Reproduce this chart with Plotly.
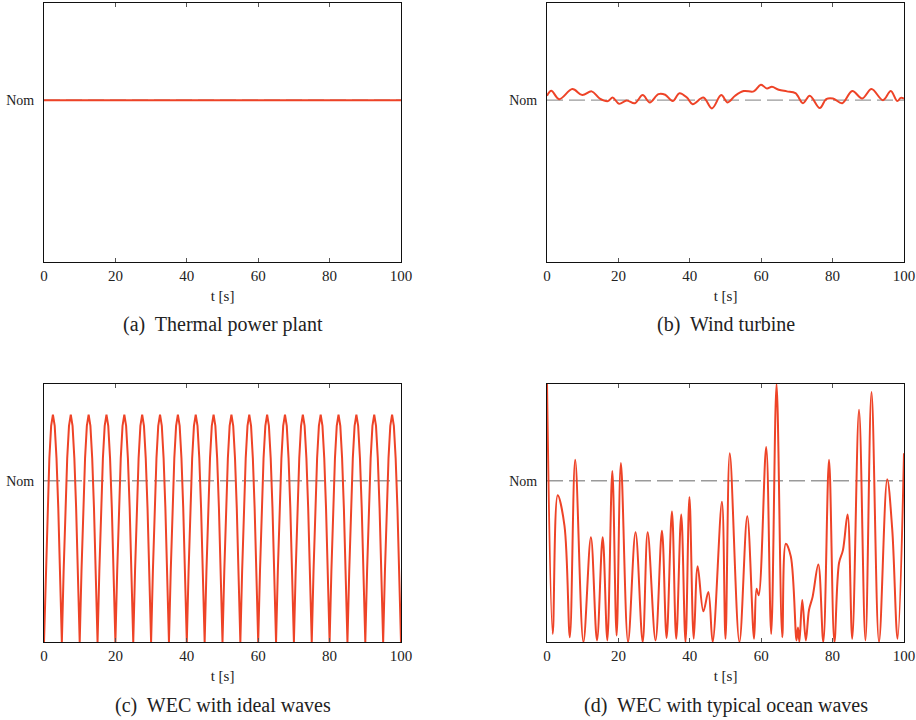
import numpy as np
import plotly.graph_objects as go

# ---------------------------------------------------------------- data
nominal = 1.0
tick_t = [0, 20, 40, 60, 80, 100]
tick_t_text = ["0", "20", "40", "60", "80", "100"]
captions = ["(a)  Thermal power plant", "(b)  Wind turbine",
            "(c)  WEC with ideal waves", "(d)  WEC with typical ocean waves"]

# (a) thermal power plant: flat at nominal output
thermal_t = [0, 100]
thermal_p = [1.0, 1.0]

# (b) wind turbine: small fluctuations around nominal
wind_t = [0.0, 1.2, 3.4, 7.1, 9.9, 12.5, 14.8, 17.1, 18.4, 20.2, 22.3, 24.6,
          26.8, 28.8, 31.2, 33.1, 35.2, 37.1, 39.2, 40.8, 43.8, 46.2, 48.8,
          50.6, 52.7, 55.1, 57.9, 59.9, 61.6, 63.0, 64.9, 67.2, 69.6, 71.7,
          73.6, 76.4, 78.2, 80.1, 82.7, 85.5, 88.3, 90.9, 94.1, 96.3, 98.1,
          99.1, 100.0]
wind_p = [1.027, 1.058, 1.006, 1.068, 1.031, 1.054, 1.010, 0.994, 1.016,
          0.977, 0.998, 0.981, 1.031, 0.986, 1.037, 1.033, 0.994, 1.043,
          1.016, 0.975, 1.016, 0.949, 1.031, 0.986, 1.027, 1.056, 1.054,
          1.095, 1.072, 1.082, 1.064, 1.054, 1.043, 0.981, 1.027, 0.951,
          1.006, 1.010, 0.981, 1.056, 1.010, 1.068, 1.000, 1.056, 0.994,
          1.014, 1.010]

# (c) ideal regular waves: one 5 s period of the WEC output, repeated
ideal_period = 5.0
ideal_cycles = 20
ideal_cycle_t = [0.0, 0.5, 1.0, 1.5, 2.0, 2.5, 3.0, 3.5, 4.0, 4.5]
ideal_cycle_p = [0.0, 0.44, 0.83, 1.14, 1.34, 1.41, 1.34, 1.14, 0.83, 0.44]

# (d) irregular ocean waves
ocean_t = [0.0, 1.6, 3.0, 4.9, 6.4, 7.9, 10.2, 12.3, 14.0, 15.6, 16.9, 18.3,
           19.5, 20.7, 22.7, 24.8, 26.8, 28.2, 30.4, 32.2, 33.5, 35.0, 36.2,
           37.6, 38.8, 39.9, 41.1, 42.2, 43.8, 45.2, 46.4, 49.0, 50.0, 51.2,
           53.9, 56.1, 58.0, 58.7, 59.3, 61.4, 62.8, 64.3, 65.9, 66.9, 68.3,
           69.9, 70.3, 70.7, 71.5, 72.5, 73.4, 74.4, 76.0, 77.4, 79.0, 80.5,
           81.8, 82.9, 84.2, 85.5, 87.4, 89.2, 90.9, 93.0, 95.3, 96.7, 98.2,
           100.0]
ocean_p = [1.6, 0.05, 0.91, 0.72, 0.03, 1.13, 0.0, 0.65, 0.01, 0.65, 0.01,
           1.06, 0.04, 1.11, 0.0, 0.68, 0.0, 0.68, 0.01, 0.69, 0.025, 0.81,
           0.02, 0.79, 0.0, 0.90, 0.02, 0.47, 0.19, 0.31, 0.0, 0.87, 0.02,
           1.17, 0.0, 0.78, 0.02, 0.33, 0.29, 1.21, 0.05, 1.6, 0.03, 0.61,
           0.53, 0.01, 0.09, 0.0, 0.26, 0.01, 0.20, 0.28, 0.48, 0.0, 1.13,
           0.0, 0.49, 0.57, 0.79, 0.02, 1.44, 0.01, 1.55, 0.0, 1.01, 0.70,
           0.02, 1.17]

# build the repeated ideal-wave series
ideal_t = np.concatenate([np.array(ideal_cycle_t) + k * ideal_period
                          for k in range(ideal_cycles)] + [[ideal_cycles * ideal_period]])
ideal_p = np.concatenate([ideal_cycle_p] * ideal_cycles + [[ideal_cycle_p[0]]])

# ---------------------------------------------------------------- style
W, H = 916, 720
RED = "#EE4327"
FONT = "Liberation Serif"

# plot boxes in pixels: (left, right, top, bottom)
boxes = [(44, 401, 3, 262), (547, 904, 3, 262),
         (44, 401, 384, 642), (547, 904, 384, 642)]

series = [(thermal_t, thermal_p, "linear"),
          (wind_t, wind_p, "spline"),
          (list(ideal_t), list(ideal_p), "linear"),
          (ocean_t, ocean_p, "spline")]

fig = go.Figure()
layout = dict(width=W, height=H, margin=dict(l=0, r=0, t=0, b=0, autoexpand=False),
              paper_bgcolor="white", plot_bgcolor="white",
              showlegend=False, font=dict(family=FONT, size=14, color="#222"))
shapes, annotations = [], []

for i, ((l, r, tp, bt), (tx, py, shape)) in enumerate(zip(boxes, series)):
    n = "" if i == 0 else str(i + 1)
    xd = [l / W, r / W]
    yd = [(H - bt) / H, (H - tp) / H]
    layout["xaxis" + n] = dict(
        domain=xd, anchor="y" + n, range=[0, 100], automargin=False,
        tickvals=tick_t, ticktext=tick_t_text,
        ticks="inside", ticklen=4, tickcolor="#555", tickwidth=1,
        showline=True, linecolor="#111", linewidth=1, mirror="allticks",
        showgrid=False, zeroline=False,
        tickfont=dict(family=FONT, size=15, color="#222"),
        title=dict(text="t [s]", standoff=7, font=dict(family=FONT, size=15, color="#222")),
    )
    layout["yaxis" + n] = dict(
        domain=yd, anchor="x" + n, range=[0, 1.6], automargin=False,
        tickvals=[nominal], ticktext=["Nom"], ticks="", ticklabelstandoff=6,
        showline=True, linecolor="#111", linewidth=1, mirror=True,
        showgrid=False, zeroline=False,
        tickfont=dict(family=FONT, size=14, color="#222"),
    )
    # dashed nominal reference line
    shapes.append(dict(type="line", xref="x" + n, yref="y" + n,
                       x0=0, x1=100, y0=nominal, y1=nominal, layer="below",
                       line=dict(color="#9a9a9a", width=1.3, dash="16px,6px")))
    fig.add_trace(go.Scatter(x=tx, y=py, mode="lines", xaxis="x" + n, yaxis="y" + n,
                             line=dict(color=RED, width=2, shape=shape,
                                       smoothing=1.0 if shape == "spline" else None),
                             cliponaxis=True, hoverinfo="skip"))
    annotations.append(dict(text=captions[i], xref="paper", yref="paper",
                            x=(l + r) / 2 / W, y=(H - (bt + 63)) / H,
                            xanchor="center", yanchor="middle", showarrow=False,
                            font=dict(family=FONT, size=20, color="#222")))

layout["shapes"] = shapes
layout["annotations"] = annotations
fig.update_layout(**layout)
fig.write_html("out.html")
